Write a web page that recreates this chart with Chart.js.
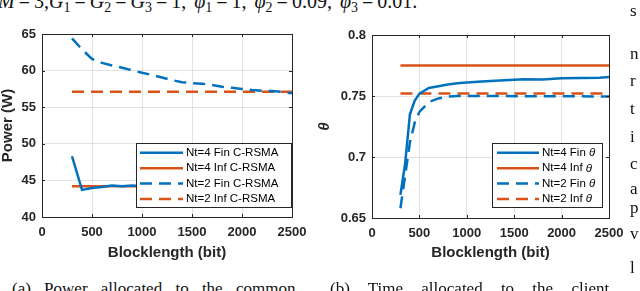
<!DOCTYPE html>
<html>
<head>
<meta charset="utf-8">
<script src="https://cdn.jsdelivr.net/npm/chart.js@4.4.1/dist/chart.umd.min.js"></script>
<style>
  html, body { margin: 0; padding: 0; background: #fff; overflow: hidden; }
  body { width: 640px; height: 291px; position: relative; font-family: "Liberation Serif", serif; color: #111; }
  canvas { position: absolute; top: 0; }
  #powerChart { left: 0; }
  #thetaChart { left: 300px; }
  .eq { position: absolute; left: -2px; top: -9px; font-size: 20px; line-height: 1; white-space: nowrap; word-spacing: 3px; }
  .eq b { font-weight: normal; padding: 0 4px; }
  .cap { position: absolute; top: 280px; font-size: 17px; line-height: 1; white-space: nowrap; word-spacing: 9px; }
  .side { position: absolute; left: 630px; font-size: 17px; line-height: 1; }
  sub { font-size: 0.7em; vertical-align: -0.3em; line-height: 0; }
</style>
</head>
<body>
<div class="eq"><i>M</i><b>=</b>3,<i>G</i><sub>1</sub><b>=</b><i>G</i><sub>2</sub><b>=</b><i>G</i><sub>3</sub><b>=</b>1, <i>φ</i><sub>1</sub><b>=</b>1, <i>φ</i><sub>2</sub><b>=</b>0.09, <i>φ</i><sub>3</sub><b>=</b>0.01.</div>

<canvas id="powerChart" width="320" height="260"></canvas>
<canvas id="thetaChart" width="340" height="260"></canvas>

<div class="cap" style="left:12px">(a) Power allocated to the common</div>
<div class="cap" style="left:330px; word-spacing: 14px">(b) Time allocated to the client</div>

<div class="side" style="top:2px">s</div>
<div class="side" style="top:45px">n</div>
<div class="side" style="top:72px">r</div>
<div class="side" style="top:100px">t</div>
<div class="side" style="top:128px">i</div>
<div class="side" style="top:155px">c</div>
<div class="side" style="top:180px">a</div>
<div class="side" style="top:199px">p</div>
<div class="side" style="top:225px">v</div>
<div class="side" style="top:259px">l</div>

<script>
// blocklength grid (bit)
const finBlocklength = [300, 400, 500, 600, 700, 800, 900, 1000, 1100, 1200, 1300, 1400,
                        1500, 1600, 1700, 1800, 1900, 2000, 2100, 2200, 2300, 2400, 2500];
const infBlocklength = [300, 2500];
const thetaBlocklength = [300, 350, 400, 450, 500, 600, 700, 800, 900, 1000, 1200, 1400,
                          1600, 1800, 2000, 2200, 2400, 2500];

// (a) power (W)
const powerNt4Fin = [48.3, 43.7, 43.95, 44.1, 44.3, 44.2, 44.3, 44.2, 44.1, 44.15, 44.2, 44.1,
                     44.15, 44.2, 44.1, 44.05, 44.1, 44.15, 44.1, 44.05, 44.0, 44.05, 44.0];
const powerNt4Inf = [44.2, 44.2];
const powerNt2Fin = [64.4, 62.9, 61.6, 61.05, 60.7, 60.4, 60.05, 59.7, 59.4, 59.05, 58.7, 58.4,
                     58.3, 58.2, 58.05, 57.8, 57.65, 57.5, 57.35, 57.25, 57.2, 57.1, 56.9];
const powerNt2Inf = [57.1, 57.1];

// (b) theta
const thetaNt4Fin = [0.669, 0.695, 0.735, 0.746, 0.752, 0.7566, 0.758, 0.7595, 0.7605, 0.761,
                     0.762, 0.763, 0.7638, 0.7636, 0.7645, 0.7648, 0.765, 0.7655];
const thetaNt4Inf = [0.775, 0.775];
const thetaNt2Fin = [0.658, 0.685, 0.712, 0.728, 0.737, 0.745, 0.748, 0.7495, 0.75, 0.75,
                     0.75, 0.75, 0.7498, 0.7498, 0.7497, 0.7497, 0.7496, 0.7495];
const thetaNt2Inf = [0.752, 0.752];

const blockTicks = [0, 500, 1000, 1500, 2000, 2500];
const powerTicks = [40, 45, 50, 55, 60, 65];
const thetaTicks = [0.65, 0.7, 0.75, 0.8];

const powerLabels = ['Nt=4 Fin C-RSMA', 'Nt=4 Inf C-RSMA', 'Nt=2 Fin C-RSMA', 'Nt=2 Inf C-RSMA'];
const thetaLabels = ['Nt=4 Fin θ', 'Nt=4 Inf θ', 'Nt=2 Fin θ', 'Nt=2 Inf θ'];

const blue = '#0072BD';
const orange = '#D95319';
const axisColor = '#262626';
const gridColor = 'rgba(38,38,38,0.13)';
const dash = [12, 7];

const pts = (xs, ys) => xs.map((x, i) => ({ x: x, y: ys[i] }));

function line(label, xs, ys, color, dashed) {
    return {
        label: label,
        data: pts(xs, ys),
        borderColor: color,
        backgroundColor: color,
        borderWidth: 2.5,
        borderDash: dashed ? dash : [],
        pointRadius: 0,
        fill: false,
        tension: 0
    };
}

// box around the axes with inward ticks, like matlab
const framePlugin = {
    id: 'frame',
    afterDatasetsDraw(chart) {
        const { ctx, chartArea: a, scales: { x, y } } = chart;
        ctx.save();
        ctx.strokeStyle = axisColor;
        ctx.lineWidth = 1;
        ctx.strokeRect(Math.round(a.left) + 0.5, Math.round(a.top) + 0.5,
                       Math.round(a.width), Math.round(a.height));
        ctx.beginPath();
        x.ticks.forEach(t => {
            const px = Math.round(x.getPixelForValue(t.value)) + 0.5;
            ctx.moveTo(px, a.bottom); ctx.lineTo(px, a.bottom - 3);
            ctx.moveTo(px, a.top); ctx.lineTo(px, a.top + 3);
        });
        y.ticks.forEach(t => {
            const py = Math.round(y.getPixelForValue(t.value)) + 0.5;
            ctx.moveTo(a.left, py); ctx.lineTo(a.left + 3, py);
            ctx.moveTo(a.right, py); ctx.lineTo(a.right - 3, py);
        });
        ctx.stroke();
        ctx.restore();
    }
};

// legend box inside the plot
const boxLegend = {
    id: 'boxLegend',
    afterDraw(chart, args, opts) {
        const ctx = chart.ctx;
        ctx.save();
        ctx.fillStyle = '#fff';
        ctx.fillRect(opts.left, opts.top, opts.width, opts.height);
        ctx.strokeStyle = axisColor;
        ctx.lineWidth = 1;
        ctx.strokeRect(opts.left + 0.5, opts.top + 0.5, opts.width, opts.height);
        chart.data.datasets.forEach((ds, i) => {
            const yy = opts.rows[i];
            ctx.strokeStyle = ds.borderColor;
            ctx.lineWidth = ds.borderWidth;
            ctx.setLineDash(ds.borderDash);
            ctx.beginPath();
            ctx.moveTo(opts.lineFrom, yy);
            ctx.lineTo(opts.lineTo, yy);
            ctx.stroke();
            ctx.setLineDash([]);

            ctx.fillStyle = '#000';
            ctx.textBaseline = 'middle';
            let tx = opts.textX;
            const parts = ds.label.split(/(θ)/);
            parts.forEach(p => {
                if (!p) return;
                ctx.font = (p === 'θ' ? 'italic ' : '') + '11.5px "Liberation Sans"';
                ctx.fillText(p, tx, yy);
                tx += ctx.measureText(p).width;
            });
        });
        ctx.restore();
    }
};

const tickFont = { family: 'Liberation Sans', size: 13, weight: 'bold' };
const titleFont = { family: 'Liberation Sans', size: 15, weight: 'bold', lineHeight: 1 };

function xScale(height) {
    return {
        type: 'linear',
        min: 0,
        max: 2500,
        afterBuildTicks: s => { s.ticks = blockTicks.map(v => ({ value: v })); },
        afterFit: s => { s.height = height; },
        grid: { color: gridColor, drawTicks: false },
        border: { display: false },
        ticks: { font: tickFont, color: axisColor, padding: 8, maxRotation: 0, autoSkip: false,
                 callback: v => String(v) },
        title: { display: true, text: 'Blocklength (bit)', font: titleFont, color: axisColor, padding: 0 }
    };
}

function yScale(min, max, tickVals, width, title, titlePad) {
    return {
        min: min,
        max: max,
        afterBuildTicks: s => { s.ticks = tickVals.map(v => ({ value: v })); },
        afterFit: s => { s.width = width; },
        grid: { color: gridColor, drawTicks: false },
        border: { display: false },
        ticks: { font: tickFont, color: axisColor, padding: 6, callback: v => String(v) },
        title: { display: true, text: title.text, font: Object.assign({}, titleFont, title.font || {}),
                 color: axisColor, padding: { top: titlePad, bottom: 0 } }
    };
}

new Chart(document.getElementById('powerChart'), {
    type: 'line',
    data: {
        datasets: [
            line(powerLabels[0], finBlocklength, powerNt4Fin, blue, false),
            line(powerLabels[1], infBlocklength, powerNt4Inf, orange, false),
            line(powerLabels[2], finBlocklength, powerNt2Fin, blue, true),
            line(powerLabels[3], infBlocklength, powerNt2Inf, orange, true)
        ]
    },
    options: {
        responsive: false,
        animation: false,
        layout: { padding: { top: 34, right: 28, left: 0, bottom: 0 } },
        scales: {
            x: xScale(43),
            y: yScale(40, 65, powerTicks, 42, { text: 'Power (W)' }, 0)
        },
        plugins: {
            legend: { display: false },
            tooltip: { enabled: false },
            boxLegend: { left: 136, top: 143, width: 155, height: 64,
                         rows: [152.8, 168.3, 183.6, 199], lineFrom: 140, lineTo: 183, textX: 186 }
        }
    },
    plugins: [framePlugin, boxLegend]
});

new Chart(document.getElementById('thetaChart'), {
    type: 'line',
    data: {
        datasets: [
            line(thetaLabels[0], thetaBlocklength, thetaNt4Fin, blue, false),
            line(thetaLabels[1], infBlocklength, thetaNt4Inf, orange, false),
            line(thetaLabels[2], thetaBlocklength, thetaNt2Fin, blue, true),
            line(thetaLabels[3], infBlocklength, thetaNt2Inf, orange, true)
        ]
    },
    options: {
        responsive: false,
        animation: false,
        layout: { padding: { top: 35, right: 31, left: 0, bottom: 0 } },
        scales: {
            x: xScale(42),
            y: yScale(0.65, 0.8, thetaTicks, 72, { text: 'θ', font: { style: 'italic' } }, 17)
        },
        plugins: {
            legend: { display: false },
            tooltip: { enabled: false },
            boxLegend: { left: 192, top: 143, width: 110, height: 64,
                         rows: [152.8, 168.3, 183.6, 199], lineFrom: 197, lineTo: 239, textX: 242 }
        }
    },
    plugins: [framePlugin, boxLegend]
});
</script>
</body>
</html>
